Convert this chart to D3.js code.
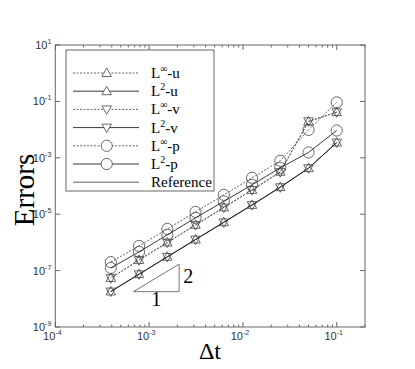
<!DOCTYPE html>
<html>
<head>
<meta charset="utf-8">
<script src="https://d3js.org/d3.v7.min.js"></script>
<style>
  body { margin: 0; background: #fff; }
  svg { display: block; }
  .tick-label { font-family: 'Liberation Sans', Arial, sans-serif; font-size: 11px; fill: #333; }
  .serif { font-family: 'Liberation Serif', 'Times New Roman', serif; fill: #000; }
</style>
</head>
<body>
<svg id="chart" width="415" height="369"></svg>
<script>
// time steps
var dt = [0.1, 0.05, 0.025, 0.0125, 0.00625, 0.003125, 0.0015625, 0.00078125, 0.000390625]

// errors
var linfU = [4.2e-2, 1.94e-2, 3.2e-4, 7.3e-5, 1.75e-5, 4.2e-6, 1.0e-6, 2.4e-7, 5.5e-8]
var l2U   = [3.5e-3, 4.3e-4, 9.1e-5, 2.14e-5, 5.2e-6, 1.27e-6, 3.1e-7, 7.5e-8, 1.82e-8]
var linfV = [4.1e-2, 1.96e-2, 3.1e-4, 7.2e-5, 1.72e-5, 4.1e-6, 0.98e-6, 2.35e-7, 5.4e-8]
var l2V   = [3.45e-3, 4.25e-4, 9.0e-5, 2.1e-5, 5.1e-6, 1.25e-6, 3.05e-7, 7.4e-8, 1.8e-8]
var linfP = [9.2e-2, 9.8e-3, 7.8e-4, 1.95e-4, 4.85e-5, 1.21e-5, 3.0e-6, 7.5e-7, 2.0e-7]
var l2P   = [9.3e-3, 1.54e-3, 4.4e-4, 1.1e-4, 2.85e-5, 7.4e-6, 1.85e-6, 4.6e-7, 1.24e-7]

// slope-2 reference triangle (data coords)
var refX = [6.8e-4, 2.09e-3, 2.09e-3, 6.8e-4]
var refY = [1.79e-8, 1.79e-8, 1.71e-7, 1.79e-8]

var xTicks = [1e-4, 1e-3, 1e-2, 1e-1]
var yTicks = [1e-9, 1e-7, 1e-5, 1e-3, 1e-1, 1e1]

var series = [
    {sup: '\u221e', comp: 'u', values: linfU, dashed: true,  marker: 'up'},
    {sup: '2',      comp: 'u', values: l2U,   dashed: false, marker: 'up'},
    {sup: '\u221e', comp: 'v', values: linfV, dashed: true,  marker: 'down'},
    {sup: '2',      comp: 'v', values: l2V,   dashed: false, marker: 'down'},
    {sup: '\u221e', comp: 'p', values: linfP, dashed: true,  marker: 'circle'},
    {sup: '2',      comp: 'p', values: l2P,   dashed: false, marker: 'circle'}
]

var svg = d3.select('#chart')
var pLeft = 55.3, pRight = 365, pTop = 45, pBottom = 327

var x = d3.scaleLog().domain([1e-4, 0.2]).range([pLeft, pRight])
var y = d3.scaleLog().domain([1e-9, 10]).range([pBottom, pTop])

var frameColor = '#666'

// minor x ticks
var xMinor = []
for (var e = -4; e <= -1; e++) {
    for (var m = 1; m <= 9; m++) {
        var v = m * Math.pow(10, e)
        if (v <= 0.2) xMinor.push(v)
    }
}
function isMajor(d) {
    return xTicks.some(function (t) { return Math.abs(t - d) / t < 1e-6 })
}

var axes = svg.append('g')
axes.selectAll('.xminor').data(xMinor).enter().append('line')
    .attr('x1', function (d) { return x(d) }).attr('x2', function (d) { return x(d) })
    .attr('y1', pBottom).attr('y2', function (d) { return pBottom - (isMajor(d) ? 5 : 2.5) })
    .attr('stroke', frameColor)
axes.selectAll('.xminorTop').data(xMinor).enter().append('line')
    .attr('x1', function (d) { return x(d) }).attr('x2', function (d) { return x(d) })
    .attr('y1', pTop).attr('y2', function (d) { return pTop + (isMajor(d) ? 5 : 2.5) })
    .attr('stroke', frameColor)
axes.selectAll('.yt').data(yTicks).enter().append('line')
    .attr('x1', pLeft).attr('x2', pLeft + 5)
    .attr('y1', function (d) { return y(d) }).attr('y2', function (d) { return y(d) })
    .attr('stroke', frameColor)
axes.selectAll('.ytr').data(yTicks).enter().append('line')
    .attr('x1', pRight).attr('x2', pRight - 5)
    .attr('y1', function (d) { return y(d) }).attr('y2', function (d) { return y(d) })
    .attr('stroke', frameColor)

axes.append('rect')
    .attr('x', pLeft).attr('y', pTop)
    .attr('width', pRight - pLeft).attr('height', pBottom - pTop)
    .attr('fill', 'none').attr('stroke', frameColor).attr('stroke-width', 1)

function expOf(d) { return Math.round(Math.log10(d)) }

var xl = axes.selectAll('.xl').data(xTicks).enter().append('text')
    .attr('class', 'tick-label')
    .attr('x', function (d) { return x(d) - 3 })
    .attr('y', pBottom + 13)
    .attr('text-anchor', 'middle')
xl.append('tspan').text('10')
xl.append('tspan').attr('dy', -5).style('font-size', '7px').text(function (d) { return expOf(d) })

var yl = axes.selectAll('.yl').data(yTicks).enter().append('text')
    .attr('class', 'tick-label')
    .attr('x', pLeft - 4)
    .attr('y', function (d) { return y(d) + 4 })
    .attr('text-anchor', 'end')
yl.append('tspan').text('10')
yl.append('tspan').attr('dy', -5).style('font-size', '7px').text(function (d) { return expOf(d) })

svg.append('text').attr('class', 'serif')
    .attr('transform', 'translate(34,190) rotate(-90)')
    .attr('text-anchor', 'middle')
    .style('font-size', '29px')
    .text('Errors')
svg.append('text').attr('class', 'serif')
    .attr('x', 210).attr('y', 359)
    .attr('text-anchor', 'middle')
    .style('font-size', '24px')
    .text('\u0394t')

// markers
function marker(sel, type) {
    if (type === 'circle') {
        sel.append('circle').attr('r', 5.6)
    } else {
        var s = 5
        var pts = type === 'up'
            ? [[0, -s], [s * 0.95, s * 0.7], [-s * 0.95, s * 0.7]]
            : [[0, s], [s * 0.95, -s * 0.7], [-s * 0.95, -s * 0.7]]
        sel.append('path').attr('d', 'M' + pts.join('L') + 'Z')
    }
}

var line = d3.line()
    .x(function (d) { return x(d[0]) })
    .y(function (d) { return y(d[1]) })

var plot = svg.append('g')

// reference triangle
plot.append('path')
    .attr('d', line(d3.zip(refX, refY)))
    .attr('fill', 'none').attr('stroke', '#777').attr('stroke-width', 1)
svg.append('text').attr('class', 'serif')
    .attr('x', x(Math.sqrt(refX[0] * refX[1]))).attr('y', y(refY[0]) + 14)
    .attr('text-anchor', 'middle').style('font-size', '20px').text('1')
svg.append('text').attr('class', 'serif')
    .attr('x', x(refX[1]) + 4).attr('y', y(Math.sqrt(refY[1] * refY[2])) + 5)
    .style('font-size', '20px').text('2')

series.forEach(function (s) {
    var pts = d3.zip(dt, s.values)
    var col = s.dashed ? '#555' : '#222'
    plot.append('path')
        .attr('d', line(pts))
        .attr('fill', 'none')
        .attr('stroke', col)
        .attr('stroke-width', 0.9)
        .attr('stroke-dasharray', s.dashed ? '2,1.5' : null)
    plot.selectAll(null).data(pts).enter().append('g')
        .attr('transform', function (d) { return 'translate(' + x(d[0]) + ',' + y(d[1]) + ')' })
        .attr('fill', 'none').attr('stroke', '#444').attr('stroke-width', 0.8)
        .each(function () { marker(d3.select(this), s.marker) })
})

// legend
var lg = svg.append('g')
lg.append('rect')
    .attr('x', 66).attr('y', 50).attr('width', 148).attr('height', 141)
    .attr('fill', '#fff').attr('stroke', frameColor)

var legendRows = series.map(function (s) { return s }).concat([{ref: true}])
legendRows.forEach(function (s, i) {
    var yy = 73 + i * 18.2
    var g = lg.append('g')
    g.append('line')
        .attr('x1', 73).attr('x2', 139).attr('y1', yy).attr('y2', yy)
        .attr('stroke', s.ref ? '#555' : (s.dashed ? '#555' : '#222'))
        .attr('stroke-width', 0.9)
        .attr('stroke-dasharray', s.dashed ? '2,1.5' : null)
    if (!s.ref) {
        var mk = g.append('g')
            .attr('transform', 'translate(106.7,' + yy + ')')
            .attr('fill', '#fff').attr('stroke', '#444').attr('stroke-width', 0.8)
        marker(mk, s.marker)
    }
    var t = g.append('text').attr('class', 'serif')
        .attr('x', 151).attr('y', yy + 5)
        .style('font-size', '15px')
    if (s.ref) {
        t.text('Reference')
    } else {
        t.append('tspan').text('L')
        t.append('tspan').attr('dy', -6).style('font-size', '10px').text(s.sup)
        t.append('tspan').attr('dy', 6).text('-' + s.comp)
    }
})
</script>
</body>
</html>
